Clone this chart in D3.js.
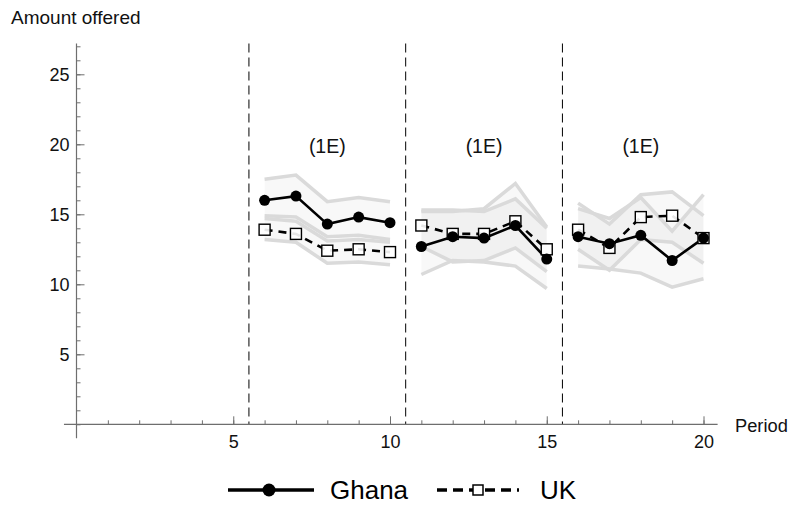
<!DOCTYPE html>
<html>
<head>
<meta charset="utf-8">
<script src="https://cdn.jsdelivr.net/npm/d3@7"></script>
<style>
  body { margin: 0; background: #fff; }
  svg { display: block; font-family: "Liberation Sans", Arial, sans-serif; }
</style>
</head>
<body>
<svg id="chart" width="792" height="506"></svg>
<script>
// ---- Data ----
const segments = [[6,7,8,9,10],[11,12,13,14,15],[16,17,18,19,20]];
const periods = [6,7,8,9,10,11,12,13,14,15,16,17,18,19,20];
const ghana = [16.0,16.3,14.3,14.8,14.4, 12.7,13.4,13.3,14.2,11.8, 13.4,12.9,13.5,11.7,13.3];
const uk    = [13.9,13.6,12.4,12.5,12.3, 14.2,13.6,13.6,14.5,12.5, 13.9,12.6,14.8,14.9,13.3];
const ghanaUpper = [17.5,17.8,15.9,16.2,15.9, 15.2,15.2,15.4,17.2,14.1, 15.4,14.7,16.2,13.8,16.4];
const ghanaLower = [14.9,14.8,13.4,13.5,13.2, 10.7,11.7,11.6,11.3,9.7, 11.3,11.1,10.8,9.8,10.4];
const ukUpper    = [14.7,14.5,13.1,13.2,13.0, 15.3,15.3,15.2,16.1,14.0, 15.8,14.3,16.4,16.6,14.9];
const ukLower    = [13.2,13.0,11.5,11.6,11.4, 12.7,11.6,11.7,12.6,10.9, 12.5,11.0,13.2,13.0,11.5];
const dividers = [5.5, 10.5, 15.5];
const segLabels = ["(1E)","(1E)","(1E)"];
const segLabelX = [8, 13, 18];
const segLabelY = 19.75;
const xMajor = [5,10,15,20];
const yMajor = [5,10,15,20,25];

// ---- Scales ----
const svg = d3.select("#chart");
const x = d3.scaleLinear().domain([0,20]).range([76.5,703.5]);
const y = d3.scaleLinear().domain([0,25]).range([424.3,74.3]);
const axisColor = "#6e6e6e";
const font = "'Liberation Sans', Arial, sans-serif";

// ---- Bands ----
const bandG = svg.append("g");
function idx(p){ return periods.indexOf(p); }
segments.forEach(seg => {
  [[ghanaUpper,ghanaLower],[ukUpper,ukLower]].forEach(([up,lo]) => {
    const area = d3.area().x(p=>x(p)).y0(p=>y(lo[idx(p)])).y1(p=>y(up[idx(p)]));
    bandG.append("path").attr("d", area(seg)).attr("fill","#000").attr("fill-opacity",0.028).attr("stroke","none");
  });
});
segments.forEach(seg => {
  [ghanaUpper,ghanaLower,ukUpper,ukLower].forEach(arr => {
    const ln = d3.line().x(p=>x(p)).y(p=>y(arr[idx(p)]));
    bandG.append("path").attr("d", ln(seg)).attr("fill","none").attr("stroke","#dadada").attr("stroke-width",3.5);
  });
});

// ---- Divider lines ----
svg.append("g").selectAll("line").data(dividers).join("line")
  .attr("x1",d=>x(d)).attr("x2",d=>x(d))
  .attr("y1",y(27.2)).attr("y2",y(0))
  .attr("stroke","#000").attr("stroke-width",1).attr("stroke-dasharray","9,5");

// ---- Axes ----
const xAxisG = svg.append("g").attr("transform",`translate(0,${y(0)})`);
xAxisG.call(d3.axisBottom(x).tickValues(d3.range(1,21)).tickSize(-4).tickFormat(""))
  .call(g=>g.select(".domain").remove());
const xMajG = svg.append("g").attr("transform",`translate(0,${y(0)})`);
xMajG.call(d3.axisBottom(x).tickValues(xMajor).tickSize(-8).tickPadding(10.5).tickFormat(d3.format("d")))
  .call(g=>g.select(".domain").remove());
const yAxisG = svg.append("g").attr("transform",`translate(${x(0)},0)`);
yAxisG.call(d3.axisLeft(y).tickValues(d3.range(0,28)).tickSize(-4).tickFormat(""))
  .call(g=>g.select(".domain").remove());
const yMajG = svg.append("g").attr("transform",`translate(${x(0)},0)`);
yMajG.call(d3.axisLeft(y).tickValues(yMajor).tickSize(-8).tickPadding(7).tickFormat(d3.format("d")))
  .call(g=>g.select(".domain").remove());
[xAxisG,xMajG,yAxisG,yMajG].forEach(g=>{
  g.selectAll("line").attr("stroke",axisColor);
  g.selectAll("text").attr("fill","#111").style("font-size","18px").style("font-family",font);
});
svg.append("line").attr("x1",x(-0.4)).attr("x2",x(20.45)).attr("y1",y(0)).attr("y2",y(0)).attr("stroke",axisColor).attr("stroke-width",1.2);
svg.append("line").attr("x1",x(0)).attr("x2",x(0)).attr("y1",y(-1.0)).attr("y2",y(27.2)).attr("stroke",axisColor).attr("stroke-width",1.2);

svg.append("text").attr("x",11).attr("y",24).text("Amount offered").attr("font-size",19).attr("fill","#111");
svg.append("text").attr("x",735).attr("y",432).text("Period").attr("font-size",18.3).attr("fill","#111");

// ---- Segment labels ----
svg.append("g").selectAll("text").data(segLabels).join("text")
  .attr("x",(d,i)=>x(segLabelX[i])).attr("y",y(segLabelY)).attr("text-anchor","middle")
  .attr("dominant-baseline","middle").attr("font-size",19.5).attr("fill","#111").text(d=>d);

// ---- Series ----
const seriesG = svg.append("g");
segments.forEach(seg => {
  const lnU = d3.line().x(p=>x(p)).y(p=>y(uk[idx(p)]));
  seriesG.append("path").attr("d",lnU(seg)).attr("fill","none").attr("stroke","#000").attr("stroke-width",2.6).attr("stroke-dasharray","8,6");
  const lnG = d3.line().x(p=>x(p)).y(p=>y(ghana[idx(p)]));
  seriesG.append("path").attr("d",lnG(seg)).attr("fill","none").attr("stroke","#000").attr("stroke-width",2.6);
});
seriesG.selectAll("rect.uk").data(periods).join("rect").attr("class","uk")
  .attr("x",p=>x(p)-5.5).attr("y",p=>y(uk[idx(p)])-5.5).attr("width",11).attr("height",11)
  .attr("fill","#fff").attr("fill-opacity",0.9).attr("stroke","#000").attr("stroke-width",1.4);
seriesG.selectAll("circle.gh").data(periods).join("circle").attr("class","gh")
  .attr("cx",p=>x(p)).attr("cy",p=>y(ghana[idx(p)])).attr("r",5.5).attr("fill","#000");

// ---- Legend ----
const lg = svg.append("g");
lg.append("line").attr("x1",228).attr("x2",314).attr("y1",490).attr("y2",490).attr("stroke","#000").attr("stroke-width",3.5);
lg.append("circle").attr("cx",269).attr("cy",490).attr("r",6.5).attr("fill","#000");
lg.append("text").attr("x",330).attr("y",499).text("Ghana").attr("font-size",26).attr("fill","#000");
lg.append("line").attr("x1",437).attr("x2",519).attr("y1",490).attr("y2",490).attr("stroke","#000").attr("stroke-width",3.5).attr("stroke-dasharray","10,6");
lg.append("rect").attr("x",473).attr("y",485).attr("width",10).attr("height",10).attr("fill","#fff").attr("stroke","#000").attr("stroke-width",1.5);
lg.append("text").attr("x",540).attr("y",499).text("UK").attr("font-size",26).attr("fill","#000");
</script>
</body>
</html>
